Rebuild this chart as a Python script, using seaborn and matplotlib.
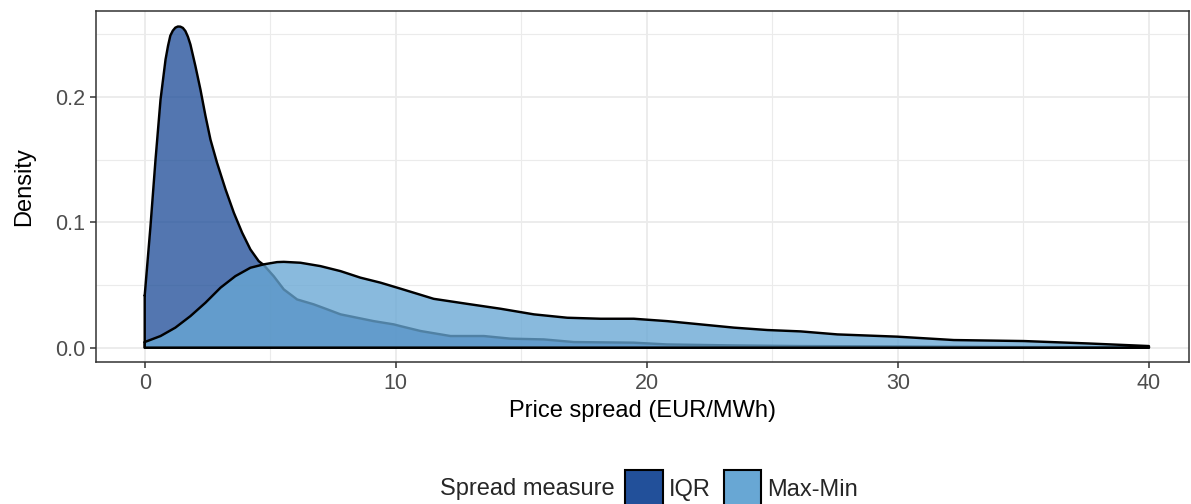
import matplotlib
matplotlib.use("Agg")
import matplotlib.pyplot as plt
from matplotlib.patches import Patch
from matplotlib.ticker import MultipleLocator, FixedLocator
import numpy as np
import pandas as pd
import seaborn as sns

# Density estimates of the daily price spread, by spread measure
iqr_x = [0.0, 0.23, 0.43, 0.63, 0.83, 0.93, 1.02, 1.12, 1.22, 1.32, 1.42,
         1.52, 1.62, 1.72, 1.82, 2.02, 2.22, 2.42, 2.62, 2.88, 3.22, 3.55,
         3.88, 4.21, 4.54, 4.74, 5.14, 5.54, 6.07, 6.73, 7.27, 7.8, 8.46,
         9.12, 9.92, 10.19, 10.99, 12.18, 13.51, 14.57, 15.9, 17.09, 19.48,
         20.8, 23.45, 26.1, 30.0, 35.0, 40.0]
iqr_density = [0.0417, 0.097, 0.150, 0.198, 0.230, 0.241, 0.249, 0.2530,
               0.2554, 0.2563, 0.2562, 0.2552, 0.2527, 0.2482, 0.242, 0.2247,
               0.206, 0.185, 0.166, 0.1476, 0.1263, 0.1077, 0.0918, 0.0784,
               0.0691, 0.0660, 0.057, 0.0465, 0.0385, 0.0346, 0.0306, 0.0266,
               0.0239, 0.0212, 0.0186, 0.0172, 0.0133, 0.0093, 0.0093, 0.0072,
               0.0066, 0.0045, 0.0040, 0.0026, 0.0018, 0.0013, 0.0010, 0.0005,
               0.0003]

maxmin_x = [0.0, 0.63, 1.22, 1.82, 2.42, 3.02, 3.61, 4.21, 4.74, 5.27, 5.54,
            6.2, 7.0, 7.8, 8.59, 9.39, 10.19, 10.99, 11.51, 12.84, 14.17,
            15.5, 16.83, 18.16, 19.48, 20.81, 22.14, 23.47, 24.8, 26.13,
            27.59, 29.98, 32.23, 35.02, 37.55, 40.0]
maxmin_density = [0.0045, 0.0093, 0.016, 0.0252, 0.0359, 0.0479, 0.0571,
                  0.0638, 0.0665, 0.0683, 0.0685, 0.0678, 0.0651, 0.0611,
                  0.0559, 0.0519, 0.0471, 0.0422, 0.0390, 0.0350, 0.0311,
                  0.0266, 0.0239, 0.0231, 0.0231, 0.0212, 0.0186, 0.0160,
                  0.0141, 0.0130, 0.0106, 0.0088, 0.0061, 0.0053, 0.0034,
                  0.0013]

measures = ["IQR", "Max-Min"]
fill_colors = {"IQR": "#22509a", "Max-Min": "#68a7d4"}
fill_alpha = 0.78

x_ticks = [0, 10, 20, 30, 40]
x_tick_labels = ["0", "10", "20", "30", "40"]
y_ticks = [0.0, 0.1, 0.2]
y_tick_labels = ["0.0", "0.1", "0.2"]

df = pd.concat([
    pd.DataFrame({"spread": iqr_x, "density": iqr_density, "measure": "IQR"}),
    pd.DataFrame({"spread": maxmin_x, "density": maxmin_density, "measure": "Max-Min"}),
], ignore_index=True)

sns.set_theme(style="whitegrid")
plt.rcParams["font.family"] = ["Liberation Sans", "DejaVu Sans"]

fig = plt.figure(figsize=(11.91, 5.04), dpi=100)
ax = fig.add_axes([0.0804, 0.2808, 0.918, 0.6974])
ax.set_facecolor("white")

for i, m in enumerate(measures):
    sub = df[df["measure"] == m]
    xs = sub["spread"].to_numpy()
    ys = sub["density"].to_numpy()
    base_z = 2 + i
    ax.fill_between(xs, ys, 0, facecolor=fill_colors[m], alpha=fill_alpha,
                    linewidth=0, zorder=base_z)
    # closed outline: curve, drop to baseline, back along the baseline
    outline = pd.DataFrame({
        "spread": np.concatenate([xs, [xs[-1], xs[0], xs[0]]]),
        "density": np.concatenate([ys, [0.0, 0.0, ys[0]]]),
    })
    sns.lineplot(data=outline, x="spread", y="density", sort=False,
                 estimator=None, color="black", linewidth=1.75, ax=ax,
                 zorder=base_z + 0.5, solid_joinstyle="round")

ax.set_xlim(-1.95, 41.6)
ax.set_ylim(-0.0118, 0.2687)

ax.xaxis.set_major_locator(FixedLocator(x_ticks))
ax.set_xticklabels(x_tick_labels)
ax.yaxis.set_major_locator(FixedLocator(y_ticks))
ax.set_yticklabels(y_tick_labels)
ax.xaxis.set_minor_locator(MultipleLocator(5))
ax.yaxis.set_minor_locator(MultipleLocator(0.05))

ax.set_axisbelow(True)
ax.grid(which="major", color="#ebebeb", linewidth=1.3)
ax.grid(which="minor", color="#ebebeb", linewidth=0.8)

for s in ax.spines.values():
    s.set_visible(True)
    s.set_color("#333333")
    s.set_linewidth(1.1)

ax.tick_params(which="major", length=4.3, width=1.1, color="#333333",
               labelsize=15.5, labelcolor="#4d4d4d", pad=3.5,
               bottom=True, left=True)
ax.tick_params(which="minor", length=0)

ax.set_xlabel("Price spread (EUR/MWh)", fontsize=17, color="black", labelpad=4)
ax.set_ylabel("Density", fontsize=17, color="black", labelpad=14)

# legend along the bottom
fig.text(440 / 1191, 1 - 489 / 504, "Spread measure", fontsize=17,
         ha="left", va="center")
handles = [Patch(facecolor=fill_colors[m], edgecolor="black", linewidth=1.5)
           for m in measures]
fig.legend(handles, measures, loc="upper left",
           bbox_to_anchor=(625 / 1191, 1 - 470 / 504), ncol=2, frameon=False,
           fontsize=17, handlelength=1.6, handleheight=2.1,
           handletextpad=0.25, columnspacing=0.55, borderpad=0,
           borderaxespad=0)

fig.savefig("out.png", dpi=100)
